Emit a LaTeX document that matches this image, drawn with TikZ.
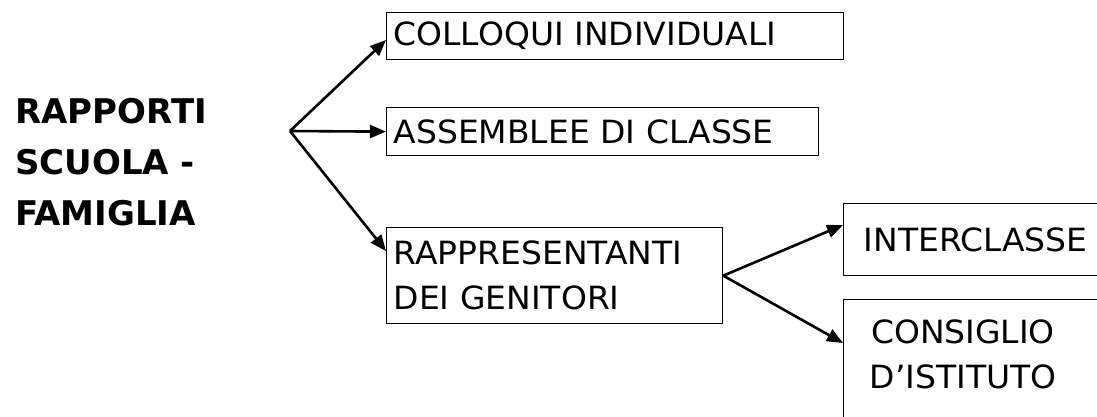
\documentclass[tikz,border=0pt]{standalone}
\usepackage{fontspec}
\setmainfont{DejaVu Sans}[FakeStretch=1.03]
\newfontfamily\titlefont{DejaVu Sans}
\usetikzlibrary{arrows.meta}

\begin{document}
\begin{tikzpicture}[x=1pt,y=-1pt,->,>={Triangle[length=16pt,width=13pt]},
  line width=2.6pt]
  \tikzstyle{box} = [draw,line width=1.3pt,anchor=north west,inner xsep=7pt,
    align=left,font=\fontsize{32}{45}\selectfont]
  \tikzstyle{title} = [font=\titlefont\bfseries\fontsize{34}{51}\selectfont,align=left]
  \clip (0,0) rectangle (1097,416);
  \node (rapporti) [title] at (111,162) {RAPPORTI\\SCUOLA -\\FAMIGLIA};
  \node (colloqui) [box,text width=443pt,minimum height=47pt] at (386,12) {COLLOQUI INDIVIDUALI};
  \node (assemblee) [box,text width=418pt,minimum height=48pt] at (386,107) {ASSEMBLEE DI CLASSE};
  \node (rapp) [box,text width=322pt,minimum height=96pt] at (386,227) {RAPPRESENTANTI\\DEI GENITORI};
  \node (inter) [box,inner xsep=20pt,text width=240pt,minimum height=72pt] at (843,203) {INTERCLASSE};
  \node (consiglio) [box,inner xsep=26pt,inner ysep=12pt,text width=230pt,text depth=110pt] at (843,299)
    {\begin{tabular}[t]{@{}c@{}}CONSIGLIO\\D'ISTITUTO\end{tabular}};
  % first fork
  \coordinate (fork) at (290,131);
  \draw (fork) -- ([yshift=-28pt]colloqui.north west);
  \draw (fork) -- (assemblee.west);
  \draw (fork) -- ([yshift=-24pt]rapp.north west);
  % second fork
  \draw (rapp.east) -- ([yshift=-22pt]inter.north west);
  \draw (rapp.east) -- ([yshift=-44pt]consiglio.north west);
\end{tikzpicture}
\end{document}
